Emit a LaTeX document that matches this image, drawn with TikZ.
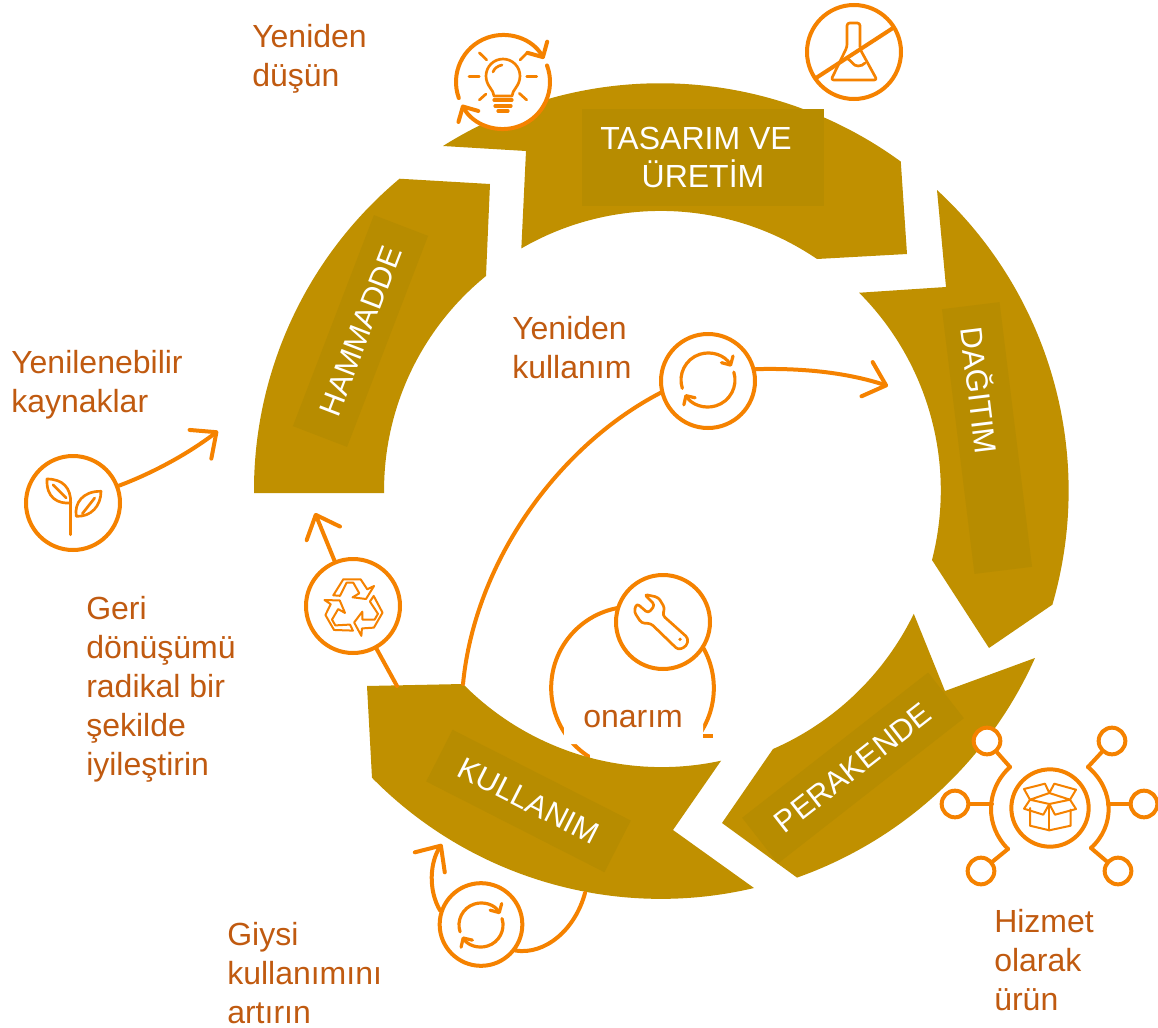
\documentclass[tikz,border=0pt]{standalone}
\usepackage{fontspec}
\setmainfont{Liberation Sans}
\usetikzlibrary{arrows.meta}
\definecolor{bandgold}{HTML}{C09000}
\definecolor{taggold}{HTML}{B78C00}
\definecolor{lineorange}{HTML}{F58200}
\definecolor{textorange}{HTML}{C05A10}
\tikzset{
  band/.style={fill=bandgold},
  bandtag/.style={fill=taggold,text=white,minimum height=43.5pt,inner sep=0pt,font=\fontsize{23}{29}\selectfont},
  lbl/.style={anchor=north west,inner sep=0pt,align=left,text=textorange,font=\fontsize{24}{29.25}\selectfont},
  iconcircle/.style={circle,draw=lineorange,fill=white,line width=3pt,inner sep=0pt,minimum size=70.5pt},
  smallcircle/.style={circle,draw=lineorange,fill=white,line width=3pt,inner sep=0pt,minimum size=20pt},
  link/.style={draw=lineorange,line width=3pt,line cap=round},
  flow/.style={link,-{Straight Barb[length=15pt,width=27pt,round]}},
  iconline/.style={draw=lineorange,line width=2pt,line cap=round,line join=round},
  iconflow/.style={draw=lineorange,line width=2.4pt,line cap=round,-{Straight Barb[length=5pt,width=10pt,round]}},
}
\begin{document}
\begin{tikzpicture}[x=.75pt,y=.75pt,yscale=-1]
\useasboundingbox (0,0) rectangle (1158,1028);
%onarim ring, partly hidden
\node[circle,draw=lineorange,line width=3pt,inner sep=0pt,minimum size=122pt] (repairring) at (632.5,688) {};
\fill[white] (564,700) -- (703,700) -- (703,770) -- (590,770) -- (590,744) -- (564,744) -- cycle;
\fill[white] (703,738) rectangle (725,775);
\draw[link,line cap=butt] (703,736) -- (713,736);
%ring
\path[band] (254,493) arc (179.6:230.1:406) -- (490,184) -- (486,276) arc (230.9:179.4:276) -- cycle;
\path[band] (443,146) arc (237.8:306.1:408) -- (907,254) -- (817,259) arc (304.2:239.9:278) -- (526,151) -- cycle;
\path[band] (937,190) arc (-47.3:16.2:409) -- (989,648) -- (932,560) arc (14.4:-44.9:280) -- (946,287) -- cycle;
\path[band] (1035,658) arc (24.1:70.5:411) -- (722,823) -- (773,749) arc (66.4:25.9:282) -- (945,691) -- cycle;
\path[band] (754,888) arc (76.7:135.5:405) -- (367,686) -- (463,684) arc (135.4:77.7:279) -- (673,830) -- cycle;
%tags
\node[bandtag,minimum width=169.5pt,rotate=69] (hammadde) at (360.5,331) {HAMMADDE};
\node[bandtag,minimum width=181.5pt,minimum height=72.75pt,font=\fontsize{24}{29}\selectfont,align=center] (tasarim) at (703,157.5) {TASARIM VE\hspace*{10.5pt}\\ÜRETİM};
\node[bandtag,minimum width=200pt,rotate=-83] (dagitimtag) at (987,438) {};
\node[text=white,inner sep=0pt,rotate=-83,font=\fontsize{23}{29}\selectfont] (dagitim) at (981,390) {DAĞITIM};
\node[bandtag,minimum width=177pt,rotate=38] (perakende) at (853,768) {PERAKENDE};
\node[bandtag,minimum width=150pt,rotate=-27] (kullanim) at (528.5,801) {KULLANIM};
%icon circles
\node[iconcircle] (plant) at (73,503) {};
\node[iconcircle] (recycle) at (353,606) {};
\node[iconcircle] (reuse) at (708,381) {};
\node[iconcircle] (wrench) at (663,622) {};
\node[iconcircle] (flask) at (854,52) {};
\node[iconcircle,minimum size=62pt] (loop) at (481,924.5) {};
\node[iconcircle,draw=none] (bulb) at (503,82) {};
\node[iconcircle,minimum size=58pt] (box) at (1050,808) {};
\node[smallcircle] (svcnw) at (987,741) {};
\node[smallcircle] (svcne) at (1112,741) {};
\node[smallcircle] (svcw) at (955,804) {};
\node[smallcircle] (svce) at (1144,804) {};
\node[smallcircle] (svcsw) at (981,871) {};
\node[smallcircle] (svcse) at (1118,871) {};
%free ends
\coordinate (hamtip) at (218,431);
\coordinate (recin) at (397,686);
\coordinate (recout) at (315,513);
\coordinate (reusein) at (463,684);
\coordinate (reusetip) at (888,386);
\coordinate (loopin) at (585,893);
\coordinate (looptip) at (442,844);
\coordinate (arclt) at (1010,767);
\coordinate (arclm) at (992,804);
\coordinate (arclb) at (1008,849);
\coordinate (arcrt) at (1088,767);
\coordinate (arcrm) at (1108,804);
\coordinate (arcrb) at (1091,848);
%connectors
\draw[flow] (plant) .. controls (150,474) and (185,456) .. (hamtip);
\draw[link] (recin) -- (recycle);
\draw[flow] (recycle) -- (recout);
\draw[link] (reusein) .. controls (475,560) and (560,445) .. (reuse.194);
\draw[flow] (reuse.14) .. controls (800,368) and (845,372) .. (reusetip);
\draw[link] (loopin) .. controls (575,930) and (545,955) .. (loop.-37);
\draw[flow] (loop.161) .. controls (428,890) and (430,862) .. (looptip);
%hub around the box
\draw[link] (arclt) .. controls (985,790) and (985,826) .. (arclb);
\draw[link] (arcrt) .. controls (1115,790) and (1115,826) .. (arcrb);
\draw[link] (svcnw) -- (arclt);
\draw[link] (svcw) -- (arclm);
\draw[link] (svcsw) -- (arclb);
\draw[link] (svcne) -- (arcrt);
\draw[link] (svce) -- (arcrm);
\draw[link] (svcse) -- (arcrb);
%bulb
\begin{scope}[shift={(503,82)}]
    \draw[link,-{Straight Barb[length=8.5pt,width=17pt,round]}] (160:47) arc (160:330.5:47);
    \draw[link,-{Straight Barb[length=8.5pt,width=17pt,round]}] (339.4:47) arc (339.4:511:47);
    \draw[iconline] (-9,14) .. controls (-9,8) and (-17,4) .. (-17,-6) arc (180:360:17) .. controls (17,4) and (9,8) .. (9,14) -- cycle;
    \draw[iconline] (-10,-10) .. controls (-9,-13) and (-6,-16) .. (-1,-17);
    \draw[iconline,line width=2.4pt] (-9,18) -- (9,18);
    \draw[iconline,line width=2.4pt] (-8,24) -- (8,24);
    \draw[iconline,line width=2.4pt] (-5,29) -- (5,29);
    \draw[iconline] (-23.7,-29.3) -- (-16.3,-22);
    \draw[iconline] (-34,-5.3) -- (-23.7,-5.3);
    \draw[iconline] (-23.7,18) -- (-17,12);
    \draw[iconline] (17,-22) -- (24.3,-29.3);
    \draw[iconline] (23.7,-5.3) -- (33.7,-5.3);
    \draw[iconline] (16.3,11.3) -- (23.7,18);
\end{scope}
%flask
\begin{scope}[shift={(854,52)}]
    \draw[iconline,rounded corners=2] (-7,-29) -- (6,-29) -- (6,-3) -- (23,28) -- (-23,28) -- (-7,-5) -- cycle;
    \draw[iconline] (-6,7) .. controls (-2,9) and (-1,14) .. (4,14) .. controls (7,14) and (9,13) .. (11,11);
    \draw[iconline,line width=3pt] (-38,26) -- (39,-24);
\end{scope}
%reuse arrows
\begin{scope}[shift={(708,380)}]
    \draw[iconflow] (162:27) arc (162:330:27);
    \draw[iconflow] (343:27) arc (343:508:27);
\end{scope}
%loop arrows
\begin{scope}[shift={(481,925)}]
    \draw[iconflow] (162:22) arc (162:330:22);
    \draw[iconflow] (343:22) arc (343:508:22);
\end{scope}
%wrench
\begin{scope}[shift={(663,622)}]
    \draw[iconline,rounded corners=2.5] (-18.7,-27.7) -- (-4.7,-24.7) -- (2,-13.7) -- (-0.7,-7) -- (25.3,16.3) -- (23.7,24) -- (15.3,28) -- (-12.3,1.3) -- (-21.3,1.3) -- (-29,-10.3) -- (-26.3,-18.7) -- (-14.7,-8.7) -- (-8,-17) -- cycle;
    \fill[lineorange] (17,17.3) circle (1.8);
\end{scope}
%recycle
\begin{scope}[shift={(353.3,607.3)}]
    \foreach \turn in {0,120,240}
        \draw[iconline,line width=1.5pt,rotate=\turn] (-20,-12) -- (-10,-28) -- (7.3,-28) -- (14,-18) -- (20.7,-21.3) -- (12.7,-8.3) -- (-0.7,-10) -- (6,-14) -- (0,-24.6) -- (-6.7,-24.6) -- (-13.3,-11.5) -- cycle;
\end{scope}
%plant
\begin{scope}[shift={(73,503)}]
    \draw[iconline] (-2.3,31.7) -- (-2.3,-3.3);
    \draw[iconline] (-26,-24) .. controls (-10,-24) and (-2,-15) .. (-2.3,0) .. controls (-15,1) and (-27,-5) .. cycle;
    \draw[iconline] (-20,-18.3) -- (-6.7,-5);
    \draw[iconline] (3.3,13.3) .. controls (1,0) and (10,-12) .. (28,-11.7) .. controls (28,3) and (18,14) .. cycle;
    \draw[iconline] (9.3,10.7) -- (21.7,-5);
\end{scope}
%box
\begin{scope}[shift={(1050,808)},iconline/.append style={line width=1.5pt}]
    \draw[iconline] (-20,0) -- (-20,17.7) -- (-0.7,22.3) -- (20.7,17.7) -- (20.7,1.7);
    \draw[iconline] (-0.7,-4) -- (-0.7,22.3);
    \draw[iconline] (-0.7,-15) -- (-20,-8.3) -- (-0.7,-4) -- (20,-8.3) -- cycle;
    \draw[iconline] (-20,-8.3) -- (-26,-19) -- (-5,-24.3) -- (-0.7,-15) -- (4.3,-24.3) -- (26,-18.3) -- (20,-8.3);
    \draw[iconline] (-20,-8.3) -- (-26,0.7) -- (-6.7,6.7) -- (-0.7,-4) -- (5,6.7) -- (26,1) -- (20,-8.3);
\end{scope}
%labels
\node[lbl] (rethink) at (252,24) {Yeniden\\düşün};
\node[lbl] (renew) at (11,350) {Yenilenebilir\\kaynaklar};
\node[lbl] (reusetext) at (512,316) {Yeniden\\kullanım};
\node[lbl] (recycletext) at (86,596) {Geri\\dönüşümü\\radikal bir\\şekilde\\iyileştirin};
\node[lbl] (usetext) at (227,922) {Giysi\\kullanımını\\artırın};
\node[lbl] (servicetext) at (994,909) {Hizmet\\olarak\\ürün};
\node[lbl,anchor=base west] (repairtext) at (583,727) {onarım};
\end{tikzpicture}
\end{document}
